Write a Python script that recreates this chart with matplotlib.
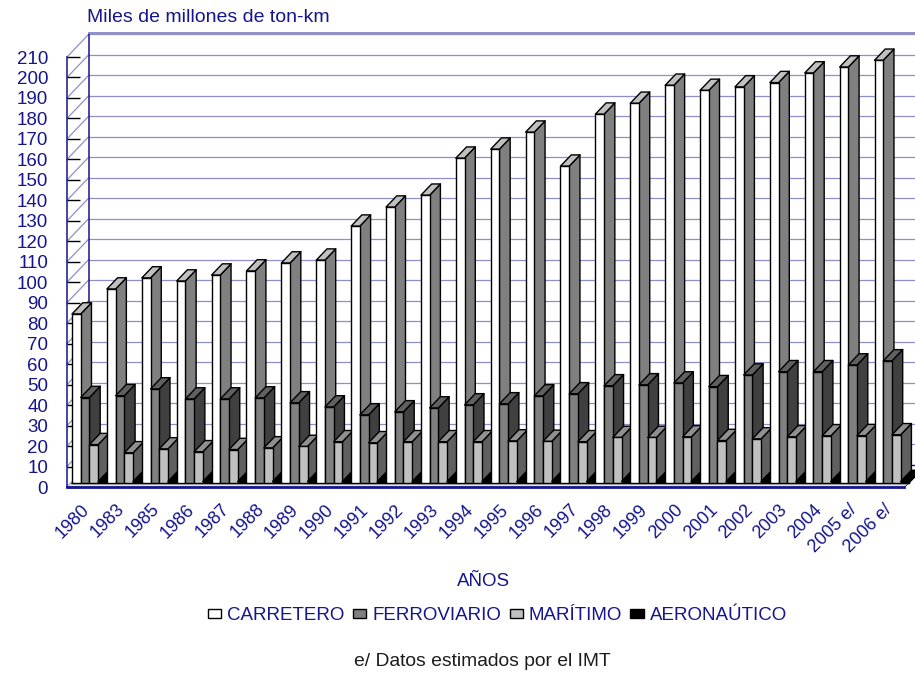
import matplotlib
matplotlib.use("Agg")
import matplotlib.pyplot as plt
from matplotlib.patches import Patch, Polygon

plt.rcParams['font.family'] = ['Liberation Sans', 'DejaVu Sans']

categories = ['1980', '1983', '1985', '1986', '1987', '1988', '1989', '1990', '1991', '1992', '1993', '1994',
              '1995', '1996', '1997', '1998', '1999', '2000', '2001', '2002', '2003', '2004', '2005 e/', '2006 e/']
carretero = [82.3, 94.5, 99.9, 98.4, 101.3, 103.3, 107.2, 108.6, 125.2, 134.5, 140.3, 158.4,
             162.8, 171.1, 154.5, 179.9, 185.2, 194.0, 191.5, 193.2, 195.3, 200.0, 202.9, 206.2]
ferroviario = [41.5, 42.4, 45.7, 40.8, 40.8, 41.3, 38.9, 36.9, 33.0, 34.5, 36.4, 37.9,
               38.4, 42.3, 43.3, 47.2, 47.7, 48.6, 46.8, 52.5, 54.1, 54.1, 57.4, 59.4]
maritimo = [18.5, 14.5, 16.4, 15.0, 16.1, 16.9, 17.6, 19.9, 19.4, 19.9, 19.9, 19.9,
            20.3, 20.1, 19.9, 22.0, 22.0, 22.3, 20.5, 21.3, 22.3, 22.8, 22.9, 23.3]
aeronautico = [0.5, 0.5, 0.5, 0.5, 0.5, 0.5, 0.5, 0.5, 0.5, 0.5, 0.5, 0.5,
               0.5, 0.5, 0.5, 0.5, 0.5, 0.5, 0.5, 0.5, 0.5, 0.5, 0.5, 0.5]
series_names = ['CARRETERO', 'FERROVIARIO', 'MARÍTIMO', 'AERONAÚTICO']
y_ticks = list(range(0, 211, 10))

W, H = 915, 674
NAVY = '#15158c'
LAV = '#8f8fc8'

# (front, top, side) shades of each series
shades = [('#ffffff', '#c0c0c0', '#808080'),
          ('#808080', '#606060', '#404040'),
          ('#c0c0c0', '#909090', '#606060'),
          ('#000000', '#000000', '#000000')]

fig = plt.figure(figsize=(W / 100, H / 100), dpi=100, facecolor='white')
ax = fig.add_axes([67 / W, (H - 487) / H, 837.4 / W, 430 / H])
ax.set_xlim(0, len(categories))
ax.set_ylim(0, 210)

# oblique projection: how far one full floor depth shifts a point, in data units
DX = 21.5 / (837.4 / len(categories))
DY = 22.5 / (430 / 210)
def proj(x, v, d):
    return x + d * DX, v + d * DY

# walls and floor
top = 210
for v in y_ticks[1:]:
    x0, y0 = proj(0, v, 0)
    x1, y1 = proj(0, v, 1)
    ax.plot([x0, x1], [y0, y1], color=LAV, lw=0.9, clip_on=False, zorder=1)
    ax.plot([x1, len(categories) + DX * 1.2], [y1, y1], color=LAV, lw=0.9, clip_on=False, zorder=1)
bx, by = proj(0, 0, 1)
tx, ty = proj(0, top, 1)
ax.plot([bx, tx], [by, ty], color=NAVY, lw=1.1, clip_on=False, zorder=1.2)
ax.plot([bx, len(categories) + DX * 1.2], [by, by], color=NAVY, lw=1, clip_on=False, zorder=1.2)
ax.plot([0, bx], [0, by], color=LAV, lw=1, clip_on=False, zorder=1.2)
ax.plot([len(categories), len(categories) + DX], [0, DY], color=NAVY, lw=1, clip_on=False, zorder=1.2)
ax.plot([tx, len(categories) + DX * 1.2], [ty + 0.8, ty + 0.8], color=LAV, lw=1.4, clip_on=False, zorder=1.2)

# front strip of the floor
D0, D1 = 0.2, 0.7
n = len(categories)
ax.add_patch(Polygon([proj(0, 0, 0), proj(n, 0, 0), proj(n, 0, D0), proj(0, 0, D0)], closed=True,
                     facecolor='#e4e4e4', edgecolor='none', clip_on=False, zorder=1.5))
ax.plot([proj(0, 0, D0)[0], proj(n, 0, D0)[0]], [proj(0, 0, D0)[1]] * 2, color='#404040', lw=1, clip_on=False, zorder=1.6)

# the 3-D bars, painted from left to right
BW = 0.25
X0 = 0.02
series = [carretero, ferroviario, maritimo, aeronautico]
z = 3
for i in range(n):
    for s, values in enumerate(series):
        v = values[i]
        front, topc, side = shades[s]
        x_l = i + X0 + s * BW
        x_r = x_l + BW
        common = dict(edgecolor='black', linewidth=1, joinstyle='round', clip_on=False)
        ax.add_patch(Polygon([proj(x_r, 0, D0), proj(x_r, 0, D1), proj(x_r, v, D1), proj(x_r, v, D0)],
                             closed=True, facecolor=side, zorder=z, **common))
        ax.add_patch(Polygon([proj(x_l, v, D0), proj(x_r, v, D0), proj(x_r, v, D1), proj(x_l, v, D1)],
                             closed=True, facecolor=topc, zorder=z + 0.1, **common))
        fx, fy = proj(x_l, 0, D0)
        ax.bar(fx, v, width=BW, bottom=fy, align='edge', color=front, zorder=z + 0.2, clip_on=False, **{'edgecolor': 'black', 'linewidth': 1})
        z += 1

# axes furniture
for k in ('top', 'right'):
    ax.spines[k].set_visible(False)
ax.spines['left'].set_color(NAVY)
ax.spines['left'].set_linewidth(1.1)
ax.spines['bottom'].set_color(NAVY)
ax.spines['bottom'].set_linewidth(2)
ax.spines['bottom'].set_zorder(2)
ax.set_yticks(y_ticks)
ax.set_yticklabels([str(t) for t in y_ticks])
ax.tick_params(axis='y', direction='in', length=9.5, width=1, color='black', pad=13.5,
               labelsize=13.5, labelcolor=NAVY)
ax.set_xticks([i + 0.4 for i in range(n)])
ax.set_xticklabels(categories, rotation=45, ha='right', rotation_mode='anchor')
ax.tick_params(axis='x', length=0, pad=10, labelsize=13, labelcolor=NAVY)

fig.text(87 / W, 1 - 17.5 / H, 'Miles de millones de ton-km', color=NAVY, fontsize=14, ha='left', va='center')
fig.text(484 / W, 1 - 582 / H, 'AÑOS', color=NAVY, fontsize=13.5, ha='center', va='center')
fig.text(482 / W, 1 - 662 / H, 'e/ Datos estimados por el IMT', color='#1c1c1c', fontsize=13.9, ha='center', va='center')

handles = [Patch(facecolor=shades[k][0], edgecolor='black', linewidth=1, label=series_names[k]) for k in range(4)]
fig.legend(handles=handles, ncol=4, loc='center', bbox_to_anchor=(497.5 / W, 1 - 616 / H), frameon=False,
           fontsize=13.5, labelcolor=NAVY, handlelength=0.7, handleheight=0.38, handletextpad=0.32,
           columnspacing=0.45, borderpad=0, borderaxespad=0)

fig.savefig('out.png', dpi=100, facecolor='white')
